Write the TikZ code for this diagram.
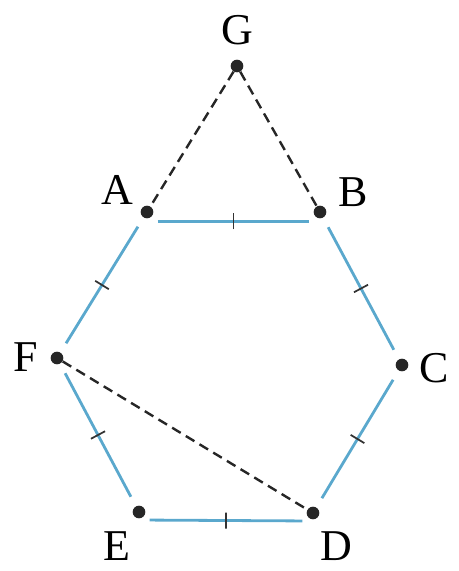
\documentclass[tikz,border=0pt]{standalone}
\usepackage{fontspec}
\setmainfont{Liberation Serif}
\usetikzlibrary{decorations.markings}
\definecolor{edgeblue}{RGB}{90,168,205}
\begin{document}
\begin{tikzpicture}[x=0.75pt,y=-0.75pt,
  pt/.style={circle,fill=black!85,inner sep=0pt,minimum size=9.5pt},
  lbl/.style={font=\fontsize{33}{38}\selectfont,inner sep=0pt},
  side/.style={edgeblue,line width=2.1pt,shorten >=8pt,shorten <=8pt,
    postaction={decorate,decoration={markings,mark=at position 0.5 with {\draw[black!80,line width=1.3pt,shorten >=0pt,shorten <=0pt] (0,-6pt)--(0,6pt);}}}},
  dashline/.style={line width=1.8pt,black!85,dash pattern=on 7.5pt off 4.5pt}]
\useasboundingbox (0,0) rectangle (459,571);
\node[pt] (G) at (237,66) {};
\node[pt] (A) at (147,212) {};
\node[pt] (B) at (320,212) {};
\node[pt] (C) at (402,365) {};
\node[pt] (D) at (313,513) {};
\node[pt] (E) at (139,512) {};
\node[pt] (F) at (57,358) {};
\node[lbl] (lG) at (237,30) {G};
\node[lbl] (lA) at (117,190) {A};
\node[lbl] (lB) at (353,192) {B};
\node[lbl] (lC) at (434,368) {C};
\node[lbl] (lD) at (336,546) {D};
\node[lbl] (lE) at (117,546) {E};
\node[lbl] (lF) at (26,357) {F};
\draw[dashline] (G) -- (A);
\draw[dashline] (G) -- (B);
\draw[dashline] (F) -- (D);
\draw[side] ([yshift=-7pt]A.center) -- ([yshift=-7pt]B.center);
\draw[side] (B) -- (C);
\draw[side] (C) -- (D);
\draw[side] ([yshift=-6pt]E.center) -- ([yshift=-6pt]D.center);
\draw[side] (E) -- (F);
\draw[side] (F) -- (A);
\end{tikzpicture}
\end{document}
